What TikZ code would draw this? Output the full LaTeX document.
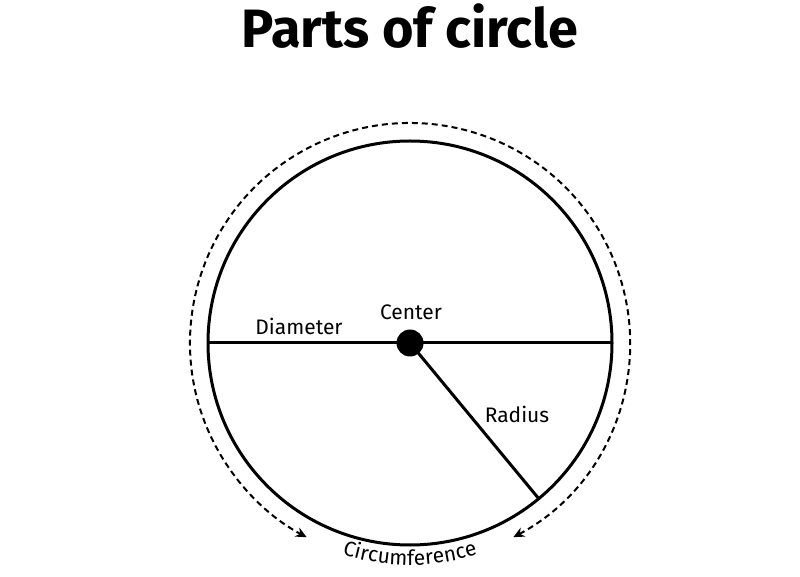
\documentclass[tikz,border=0pt]{standalone}
\usepackage{fontspec}
\setmainfont{Fira Sans}
\usetikzlibrary{decorations.text,arrows.meta,calc}
\begin{document}
\begin{tikzpicture}[x=1pt,y=1pt,
  lbl/.style={font=\fontsize{21}{24}\selectfont},
  ln/.style={line width=3pt}]
\useasboundingbox (0,0) rectangle (800,576);
\coordinate (c) at (410,233);
\node[font=\fontsize{54}{60}\selectfont\bfseries] (title) at (410,550) {Parts of circle};
\draw[ln] (c) circle[radius=202];
\coordinate (dl) at (208,233);
\coordinate (dr) at (612,233);
\draw[ln] (dl) -- (dr);
\coordinate (rr) at ($(c)+(-50.4:202)$);
\draw[ln] (c) -- (rr);
\node[circle,fill=black,minimum size=27pt,inner sep=0pt] (dot) at (c) {};
\node[lbl] (center) at (411,264) {Center};
\node[lbl] (diam) at (299,250) {Diameter};
\node[lbl] (rad) at (517,162) {Radius};
\coordinate (as) at ($(c)+(-62:220)$);
\draw[line width=2pt,dash pattern=on 6pt off 4pt,{Stealth[length=11pt,width=10pt]}-{Stealth[length=11pt,width=10pt]}]
  (as) arc[start angle=-62,end angle=242,radius=220];
\path[font=\fontsize{21}{24}\selectfont,decorate,decoration={text along path,text align=center,
  text={|\fontsize{21}{24}\selectfont|Circumference}}]
  ($(c)+(243:222)$) arc[start angle=243,end angle=297,radius=222];
\end{tikzpicture}
\end{document}
